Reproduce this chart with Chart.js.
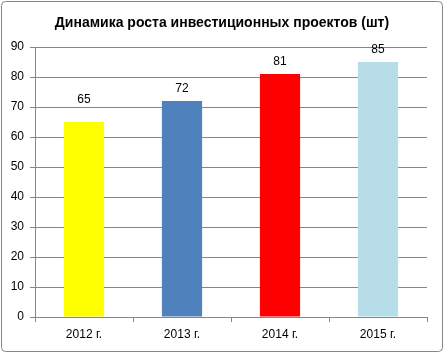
<!DOCTYPE html>
<html><head><meta charset="utf-8">
<script src="https://cdn.jsdelivr.net/npm/chart.js@4.4.1/dist/chart.umd.min.js"></script>
<style>html,body{margin:0;padding:0;background:#fff}#wrap{position:relative;width:444px;height:353px}</style>
</head><body><div id="wrap"><canvas id="c" width="444" height="353"></canvas></div>
<script>
const categories = ["2012 г.", "2013 г.", "2014 г.", "2015 г."];
const values = [65, 72, 81, 85];
const barColors = ["#FFFF00", "#4F81BD", "#FF0000", "#B7DEE8"];
const yTicks = [0, 10, 20, 30, 40, 50, 60, 70, 80, 90];
const titleText = "Динамика роста инвестиционных проектов (шт)";

const FONT = "'Liberation Sans', Arial, sans-serif";

const frame = {
  id: 'frame',
  beforeDraw(chart) {
    const ctx = chart.ctx;
    ctx.save();
    ctx.fillStyle = '#fff';
    ctx.fillRect(0, 0, chart.width, chart.height);
    ctx.strokeStyle = '#868686';
    ctx.lineWidth = 1;
    ctx.beginPath();
    ctx.roundRect(1.5, 1.5, chart.width - 3, chart.height - 3, 4);
    ctx.stroke();
    ctx.fillStyle = '#000';
    ctx.font = "bold 14px " + FONT;
    ctx.textAlign = 'center';
    ctx.textBaseline = 'middle';
    ctx.fillText(titleText, chart.width / 2, 23);
    ctx.restore();
  }
};
const valueLabels = {
  id: 'valueLabels',
  afterDatasetsDraw(chart, args, opts) {
    const ctx = chart.ctx;
    const meta = chart.getDatasetMeta(0);
    ctx.save();
    ctx.fillStyle = '#000';
    ctx.font = "12px " + FONT;
    ctx.textAlign = 'center';
    ctx.textBaseline = 'alphabetic';
    meta.data.forEach((bar, i) => {
      ctx.fillText(String(values[i]), bar.x, bar.y - opts.gaps[i]);
    });
    ctx.restore();
  }
};

new Chart(document.getElementById('c'), {
  type: 'bar',
  data: {
    labels: categories,
    datasets: [{ data: values, backgroundColor: barColors, borderWidth: 0, categoryPercentage: 1, barPercentage: 0.41 }]
  },
  options: {
    responsive: false,
    animation: false,
    devicePixelRatio: 1,
    layout: { padding: { left: 0, right: 17, top: 47, bottom: 0 } },
    plugins: {
      legend: { display: false },
      tooltip: { enabled: false },
      title: { display: false },
      valueLabels: { gaps: [19, 9, 9, 9] }
    },
    scales: {
      x: {
        offset: true,
        grid: { display: true, drawOnChartArea: false, drawTicks: true, tickLength: 5, color: '#868686', offset: true },
        border: { color: '#868686' },
        ticks: { color: '#000', font: { family: FONT, size: 12 }, padding: 5 },
        afterFit(s) { s.height = 36; }
      },
      y: {
        min: 0, max: 90,
        afterBuildTicks(s) { s.ticks = yTicks.map(v => ({ value: v })); },
        grid: { color: '#868686', drawTicks: true, tickLength: 5 },
        border: { color: '#868686' },
        ticks: { color: '#000', font: { family: FONT, size: 12 }, padding: 6 },
        afterFit(s) { s.width = 35; }
      }
    }
  },
  plugins: [frame, valueLabels]
});
</script></body></html>
